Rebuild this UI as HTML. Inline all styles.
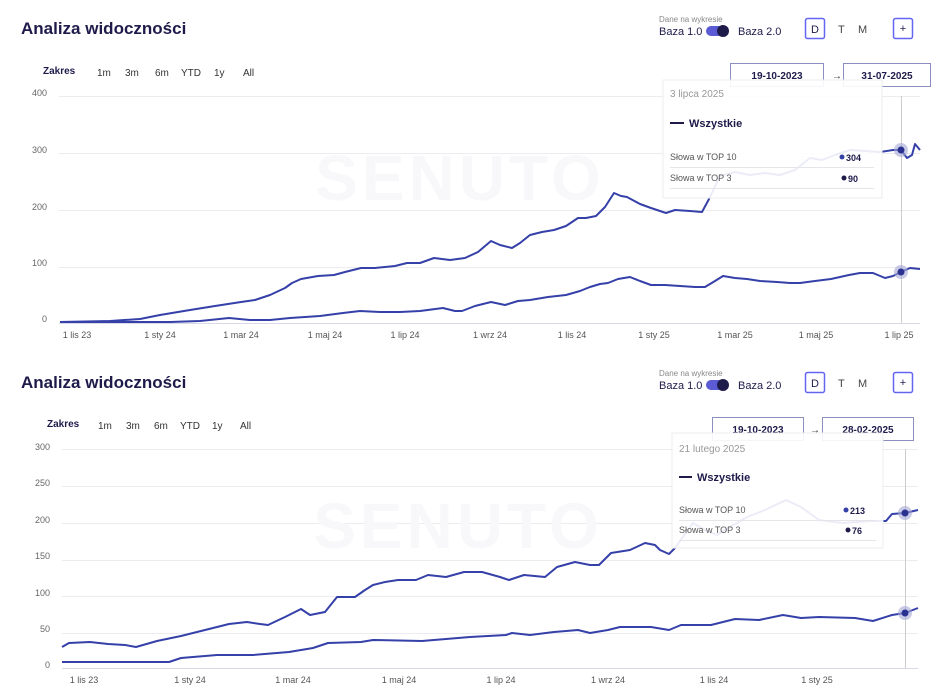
<!DOCTYPE html>
<html><head><meta charset="utf-8"><style>
html,body{margin:0;padding:0;background:#fff;}
svg{display:block;font-family:"Liberation Sans",sans-serif;}
</style></head><body>
<svg width="940" height="700" viewBox="0 0 940 700" xmlns="http://www.w3.org/2000/svg">
<!-- ========== CHART 1 ========== -->
<text x="21" y="34" font-size="17" font-weight="bold" fill="#1e1b4b">Analiza widoczności</text>
<text x="659" y="22" font-size="8" fill="#888">Dane na wykresie</text>
<text x="659" y="35" font-size="11" fill="#1e1b4b">Baza 1.0</text>
<rect x="706" y="26" width="22" height="10" rx="5" fill="#5b5bd6"/><circle cx="723" cy="31" r="6" fill="#1e1b4b"/>
<text x="738" y="35" font-size="11" fill="#1e1b4b">Baza 2.0</text>
<rect x="805.5" y="18.5" width="19" height="20" rx="2" fill="#fff" stroke="#6366f1" stroke-width="1.5"/>
<text x="815" y="33" font-size="11" text-anchor="middle" fill="#1e1b4b">D</text>
<text x="838" y="33" font-size="11" fill="#444">T</text>
<text x="858" y="33" font-size="11" fill="#444">M</text>
<rect x="893.5" y="18.5" width="19" height="20" rx="2" fill="#fff" stroke="#6366f1" stroke-width="1.5"/>
<text x="903" y="32" font-size="11" text-anchor="middle" fill="#1e1b4b">+</text>
<text x="43" y="74" font-size="10" font-weight="bold" fill="#1e1b4b">Zakres</text>
<g font-size="10" fill="#333"><text x="97" y="76">1m</text><text x="125" y="76">3m</text><text x="155" y="76">6m</text><text x="181" y="76">YTD</text><text x="214" y="76">1y</text><text x="243" y="76">All</text></g>
<rect x="730.5" y="63.5" width="93" height="23" fill="#fff" stroke="#8b8fc0"/>
<text x="777" y="79" font-size="10" font-weight="bold" text-anchor="middle" fill="#1e1b4b">19-10-2023</text>
<text x="832" y="79" font-size="10" fill="#333">→</text>
<rect x="843.5" y="63.5" width="87" height="23" fill="#fff" stroke="#8b8fc0"/>
<text x="887" y="79" font-size="10" font-weight="bold" text-anchor="middle" fill="#1e1b4b">31-07-2025</text>
<g stroke="#ececf0" stroke-width="1"><line x1="59" y1="96.5" x2="920" y2="96.5"/><line x1="59" y1="153.5" x2="920" y2="153.5"/><line x1="59" y1="210.5" x2="920" y2="210.5"/><line x1="59" y1="267.5" x2="920" y2="267.5"/></g>
<line x1="59" y1="323.5" x2="920" y2="323.5" stroke="#d8d8e6"/>
<g font-size="9" fill="#666" text-anchor="end"><text x="47" y="96">400</text><text x="47" y="153">300</text><text x="47" y="210">200</text><text x="47" y="266">100</text><text x="47" y="322">0</text></g>
<g font-size="9" fill="#555" text-anchor="middle"><text x="77" y="338">1 lis 23</text><text x="160" y="338">1 sty 24</text><text x="241" y="338">1 mar 24</text><text x="325" y="338">1 maj 24</text><text x="405" y="338">1 lip 24</text><text x="490" y="338">1 wrz 24</text><text x="572" y="338">1 lis 24</text><text x="654" y="338">1 sty 25</text><text x="735" y="338">1 mar 25</text><text x="816" y="338">1 maj 25</text><text x="899" y="338">1 lip 25</text></g>
<text x="460" y="200" font-size="64" font-weight="bold" text-anchor="middle" fill="#f8f8fa" letter-spacing="4">SENUTO</text>
<line x1="901.5" y1="96" x2="901.5" y2="323" stroke="#ccc"/>
<g fill="none" stroke="#3540a8" stroke-width="2" stroke-linejoin="round">
<polyline points="60,322 110,321 140,319 160,315 190,310 215,306 241,302 255,300 270,295 285,288 292,283 301,279 318,276 334,275 345,272 361,268 375,268 385,267 395,266 407,263 420,263 434,258 450,260 465,258 478,252 491,241 500,245 512,248 520,243 530,235 542,232 554,230 566,226 578,218 586,218 596,216 605,207 614,193 621,196 627,197 640,204 651,208 666,213 675,210 690,211 702,212 709,199 720,176 735,172 750,175 765,173 780,175 795,170 810,158 822,160 835,155 850,150 865,151 880,152 893,150 901,150 907,158 912,155 915,144 920,150"/>
<polyline points="60,322 170,322 200,321 229,318 250,320 270,320 290,318 320,316 343,313 360,311 380,312 400,312 420,311 443,308 455,311 462,311 475,306 491,302 505,305 518,301 530,300 548,297 566,295 580,291 590,287 600,284 608,283 618,279 630,277 640,281 651,285 665,285 680,286 695,287 705,287 715,281 723,276 735,278 747,279 760,281 777,282 790,283 800,283 815,281 831,279 840,277 849,275 860,273 873,273 885,278 893,276 901,272 910,268 920,269"/>
</g>
<circle cx="901" cy="150" r="7" fill="#a5a8d6" opacity="0.6"/><circle cx="901" cy="150" r="3.5" fill="#2a3190"/>
<circle cx="901" cy="272" r="7" fill="#a5a8d6" opacity="0.6"/><circle cx="901" cy="272" r="3.5" fill="#2a3190"/>
<rect x="663" y="80" width="219" height="118" fill="#fff" fill-opacity="0.9" stroke="#eee"/>
<text x="670" y="97" font-size="10" fill="#999">3 lipca 2025</text>
<line x1="670" y1="123" x2="684" y2="123" stroke="#1e1b4b" stroke-width="2"/>
<text x="689" y="127" font-size="11" font-weight="bold" fill="#1e1b4b">Wszystkie</text>
<text x="670" y="160" font-size="9" fill="#555">Słowa w TOP 10</text>
<circle cx="842" cy="157" r="2.5" fill="#3540a8"/><text x="846" y="161" font-size="9" font-weight="bold" fill="#1e1b4b">304</text>
<line x1="670" y1="167.5" x2="874" y2="167.5" stroke="#e5e5ea"/>
<text x="670" y="181" font-size="9" fill="#555">Słowa w TOP 3</text>
<circle cx="844" cy="178" r="2.5" fill="#1e1b4b"/><text x="848" y="182" font-size="9" font-weight="bold" fill="#1e1b4b">90</text>
<line x1="670" y1="188.5" x2="874" y2="188.5" stroke="#e5e5ea"/>

<!-- ========== CHART 2 ========== -->
<text x="21" y="388" font-size="17" font-weight="bold" fill="#1e1b4b">Analiza widoczności</text>
<text x="659" y="376" font-size="8" fill="#888">Dane na wykresie</text>
<text x="659" y="389" font-size="11" fill="#1e1b4b">Baza 1.0</text>
<rect x="706" y="380" width="22" height="10" rx="5" fill="#5b5bd6"/><circle cx="723" cy="385" r="6" fill="#1e1b4b"/>
<text x="738" y="389" font-size="11" fill="#1e1b4b">Baza 2.0</text>
<rect x="805.5" y="372.5" width="19" height="20" rx="2" fill="#fff" stroke="#6366f1" stroke-width="1.5"/>
<text x="815" y="387" font-size="11" text-anchor="middle" fill="#1e1b4b">D</text>
<text x="838" y="387" font-size="11" fill="#444">T</text>
<text x="858" y="387" font-size="11" fill="#444">M</text>
<rect x="893.5" y="372.5" width="19" height="20" rx="2" fill="#fff" stroke="#6366f1" stroke-width="1.5"/>
<text x="903" y="386" font-size="11" text-anchor="middle" fill="#1e1b4b">+</text>
<text x="47" y="427" font-size="10" font-weight="bold" fill="#1e1b4b">Zakres</text>
<g font-size="10" fill="#333"><text x="98" y="429">1m</text><text x="126" y="429">3m</text><text x="154" y="429">6m</text><text x="180" y="429">YTD</text><text x="212" y="429">1y</text><text x="240" y="429">All</text></g>
<rect x="712.5" y="417.5" width="91" height="23" fill="#fff" stroke="#8b8fc0"/>
<text x="758" y="433" font-size="10" font-weight="bold" text-anchor="middle" fill="#1e1b4b">19-10-2023</text>
<text x="810" y="433" font-size="10" fill="#333">→</text>
<rect x="822.5" y="417.5" width="91" height="23" fill="#fff" stroke="#8b8fc0"/>
<text x="868" y="433" font-size="10" font-weight="bold" text-anchor="middle" fill="#1e1b4b">28-02-2025</text>
<g stroke="#ececf0" stroke-width="1"><line x1="62" y1="449.5" x2="918" y2="449.5"/><line x1="62" y1="486.5" x2="918" y2="486.5"/><line x1="62" y1="523.5" x2="918" y2="523.5"/><line x1="62" y1="560.5" x2="918" y2="560.5"/><line x1="62" y1="596.5" x2="918" y2="596.5"/><line x1="62" y1="633.5" x2="918" y2="633.5"/></g>
<line x1="62" y1="668.5" x2="918" y2="668.5" stroke="#d8d8e6"/>
<g font-size="9" fill="#666" text-anchor="end"><text x="50" y="450">300</text><text x="50" y="486">250</text><text x="50" y="523">200</text><text x="50" y="559">150</text><text x="50" y="596">100</text><text x="50" y="632">50</text><text x="50" y="668">0</text></g>
<g font-size="9" fill="#555" text-anchor="middle"><text x="84" y="683">1 lis 23</text><text x="190" y="683">1 sty 24</text><text x="293" y="683">1 mar 24</text><text x="399" y="683">1 maj 24</text><text x="501" y="683">1 lip 24</text><text x="608" y="683">1 wrz 24</text><text x="714" y="683">1 lis 24</text><text x="817" y="683">1 sty 25</text></g>
<text x="458" y="548" font-size="64" font-weight="bold" text-anchor="middle" fill="#f8f8fa" letter-spacing="4">SENUTO</text>
<line x1="905.5" y1="449" x2="905.5" y2="668" stroke="#ccc"/>
<g fill="none" stroke="#3540a8" stroke-width="2" stroke-linejoin="round">
<polyline points="62,647 69,643 90,642 108,644 125,645 136,647 157,641 181,636 205,630 229,624 247,622 260,624 268,625 285,617 301,609 310,615 325,612 337,597 355,597 365,590 373,585 385,582 398,580 416,580 428,575 446,577 464,572 482,572 500,577 509,580 524,575 545,577 557,567 575,562 590,565 599,565 611,553 630,550 645,543 655,545 660,550 669,554 675,548 693,523 705,530 717,535 730,527 747,517 765,510 786,500 801,507 819,520 843,523 870,521 886,521 892,514 905,513 918,510"/>
<polyline points="62,662 169,662 181,658 217,655 253,655 289,652 313,648 328,643 361,642 373,640 422,641 470,637 506,635 512,633 530,635 554,632 578,630 590,633 608,630 620,627 651,627 669,630 681,625 711,625 735,619 759,620 783,615 801,618 819,617 855,618 873,621 892,615 905,613 918,608"/>
</g>
<circle cx="905" cy="513" r="7" fill="#a5a8d6" opacity="0.6"/><circle cx="905" cy="513" r="3.5" fill="#2a3190"/>
<circle cx="905" cy="613" r="7" fill="#a5a8d6" opacity="0.6"/><circle cx="905" cy="613" r="3.5" fill="#2a3190"/>
<rect x="672" y="433" width="211" height="115" fill="#fff" fill-opacity="0.9" stroke="#eee"/>
<text x="679" y="452" font-size="10" fill="#999">21 lutego 2025</text>
<line x1="679" y1="477" x2="692" y2="477" stroke="#1e1b4b" stroke-width="2"/>
<text x="697" y="481" font-size="11" font-weight="bold" fill="#1e1b4b">Wszystkie</text>
<text x="679" y="513" font-size="9" fill="#555">Słowa w TOP 10</text>
<circle cx="846" cy="510" r="2.5" fill="#3540a8"/><text x="850" y="514" font-size="9" font-weight="bold" fill="#1e1b4b">213</text>
<line x1="679" y1="520.5" x2="876" y2="520.5" stroke="#e5e5ea"/>
<text x="679" y="533" font-size="9" fill="#555">Słowa w TOP 3</text>
<circle cx="848" cy="530" r="2.5" fill="#1e1b4b"/><text x="852" y="534" font-size="9" font-weight="bold" fill="#1e1b4b">76</text>
<line x1="679" y1="540.5" x2="876" y2="540.5" stroke="#e5e5ea"/>
</svg>
</body></html>
